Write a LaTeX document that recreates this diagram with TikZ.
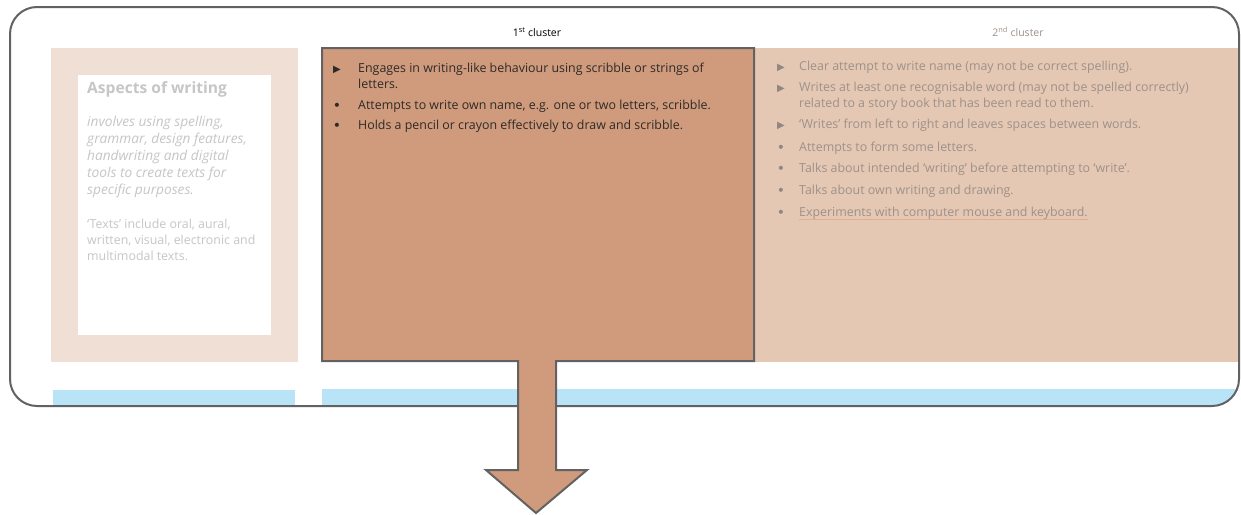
\documentclass[tikz,border=0pt]{standalone}
\usepackage{fontspec}
\setmainfont{Open Sans}
\newfontfamily\symfont{DejaVu Sans}
\definecolor{framegray}{HTML}{626262}
\definecolor{paleleft}{HTML}{F0DFD5}
\definecolor{midfill}{HTML}{CF9B7C}
\definecolor{rightfill}{HTML}{E4C8B3}
\definecolor{stripblue}{HTML}{B9E4F7}
\definecolor{fadedgray}{HTML}{C6C6C6}
\definecolor{midtext}{HTML}{2E2A28}
\definecolor{righttext}{HTML}{9E918A}
\definecolor{rightmark}{HTML}{8F8782}
\definecolor{linkline}{HTML}{E2AE8C}
\tikzset{
  midline/.style={anchor=base west, text=midtext, inner sep=0pt, align=left,
    font=\fontsize{12.4}{16}\selectfont},
  midtri/.style={anchor=base, text=midtext, inner sep=0pt,
    font=\symfont\fontsize{10}{16}\selectfont},
  middot/.style={anchor=base, text=midtext, inner sep=0pt,
    font=\symfont\fontsize{14}{16}\selectfont},
  rightline/.style={anchor=base west, text=righttext, inner sep=0pt, align=left,
    font=\fontsize{12.4}{16}\selectfont},
  righttri/.style={anchor=base, text=rightmark, inner sep=0pt,
    font=\symfont\fontsize{10}{16}\selectfont},
  rightdot/.style={anchor=base, text=rightmark, inner sep=0pt,
    font=\symfont\fontsize{14}{16}\selectfont},
  header/.style={anchor=base, inner sep=0pt, font=\fontsize{10.5}{12}\selectfont},
}
\begin{document}
\begin{tikzpicture}[x=1pt,y=-1pt]
\useasboundingbox (0,0) rectangle (1241,514);

% outer frame
\fill[white] (10,406) [rounded corners=27pt] -- (10,7) -- (1239,7) -- (1239,406) -- cycle;

% column panels
\fill[paleleft] (51,48) rectangle (298,362);
\node[fill=white, minimum width=193pt, minimum height=260pt, anchor=north west, inner sep=0pt] (card) at (78,75) {};
\fill[rightfill] (754,48) rectangle (1240,362);

% blue strips along the bottom, clipped by the frame corners
\begin{scope}
  \clip (10,406) [rounded corners=27pt] -- (10,7) -- (1239,7) -- (1239,406) -- cycle;
  \fill[stripblue] (53,390) rectangle (295,406);
  \fill[stripblue] (322,389) rectangle (1245,406);
\end{scope}
\draw[framegray, line width=2pt] (10,406) [rounded corners=27pt] -- (10,7) -- (1239,7) -- (1239,406) -- cycle;

% first cluster box with downward arrow
\draw[framegray, line width=2pt, fill=midfill, line join=miter]
  (322,48) -- (754,48) -- (754,361) -- (556,361) -- (556,470) -- (587,470)
  -- (536,513) -- (486,470) -- (518,470) -- (518,361) -- (322,361) -- cycle;

% headers
\node[header, text=black] (h1) at (537,36) {1\textsuperscript{st} cluster};
\node[header, text=righttext] (h2) at (1018,36) {2\textsuperscript{nd} cluster};

% left card (multi-line nodes are placed by the baseline of their last line)
\node[anchor=base west, inner sep=0pt, text=fadedgray, font=\fontsize{15.6}{16}\selectfont\bfseries] (title) at (87,93) {Aspects of writing};
\node[anchor=base west, inner sep=0pt, text=fadedgray, align=left, font=\fontsize{13.7}{16.8}\selectfont\itshape] (desc) at (87,194)
  {involves using spelling,\\grammar, design features,\\handwriting and digital\\tools to create texts for\\specific purposes.};
\node[anchor=base west, inner sep=0pt, text=fadedgray, align=left, font=\fontsize{12.4}{16}\selectfont] (texts) at (87,260)
  {`Texts' include oral, aural,\\written, visual, electronic and\\multimodal texts.};

% first cluster items
\node[midtri] (m1) at (337,72) {▶};
\node[midline] (t1) at (358,88) {Engages in writing-like behaviour using scribble or strings of\\letters.};
\node[middot] (m2) at (337,110) {•};
\node[midline] (t2) at (358,109) {Attempts to write own name, e.g. one or two letters, scribble.};
\node[middot] (m3) at (337,130) {•};
\node[midline] (t3) at (358,129) {Holds a pencil or crayon effectively to draw and scribble.};

% second cluster items
\node[righttri] (r1) at (781,70) {▶};
\node[rightline] (s1) at (799,70) {Clear attempt to write name (may not be correct spelling).};
\node[righttri] (r2) at (781,91) {▶};
\node[rightline] (s2) at (799,107) {Writes at least one recognisable word (may not be spelled correctly)\\related to a story book that has been read to them.};
\node[righttri] (r3) at (781,128) {▶};
\node[rightline] (s3) at (799,128) {`Writes' from left to right and leaves spaces between words.};
\node[rightdot] (r4) at (781,152) {•};
\node[rightline] (s4) at (799,151) {Attempts to form some letters.};
\node[rightdot] (r5) at (781,173) {•};
\node[rightline] (s5) at (799,172) {Talks about intended `writing' before attempting to `write'.};
\node[rightdot] (r6) at (781,195) {•};
\node[rightline] (s6) at (799,194) {Talks about own writing and drawing.};
\node[rightdot] (r7) at (781,217) {•};
\node[rightline] (s7) at (799,216) {Experiments with computer mouse and keyboard.};
\draw[linkline, line width=0.6pt] ([yshift=-3pt]s7.base west) -- ([yshift=-3pt]s7.base east);
\end{tikzpicture}
\end{document}
